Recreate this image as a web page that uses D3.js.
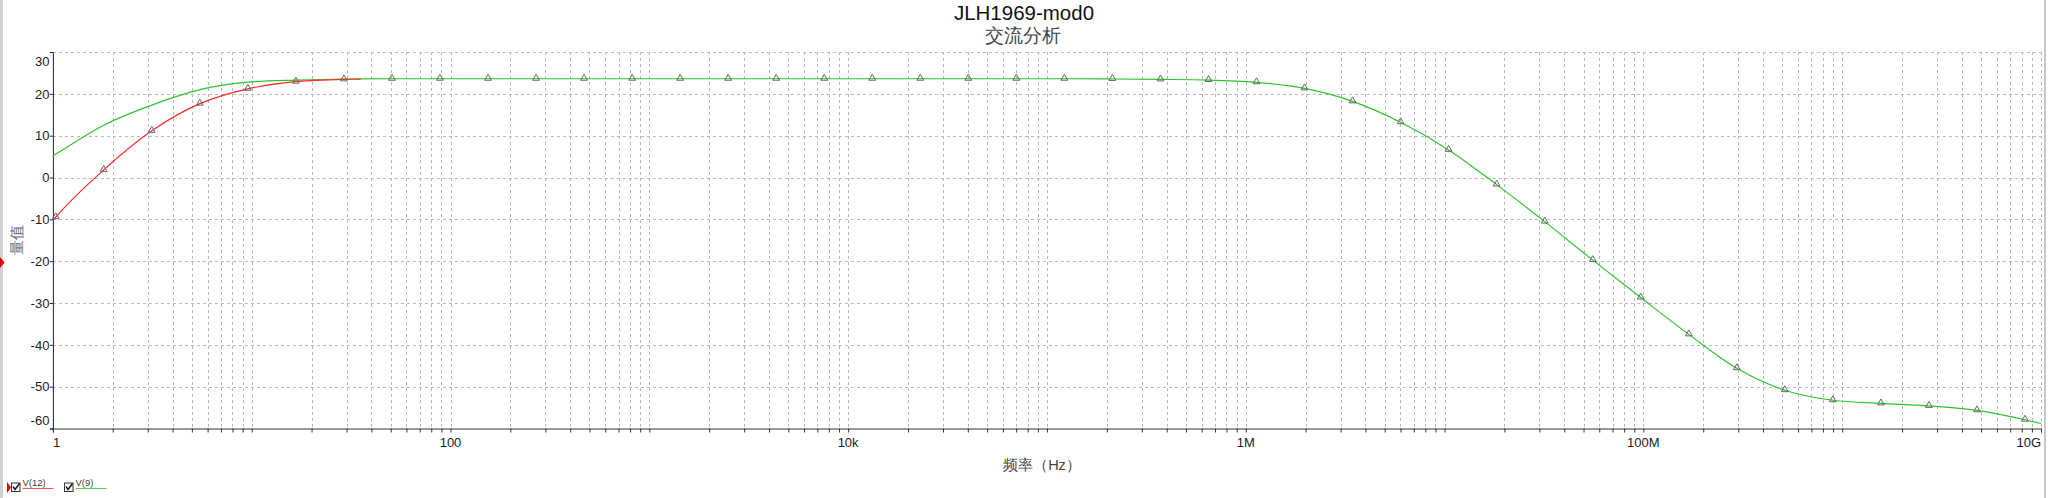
<!DOCTYPE html>
<html><head><meta charset="utf-8">
<script src="https://cdn.jsdelivr.net/npm/d3@7"></script>
<style>
html,body{margin:0;padding:0;background:#fff;}
svg{display:block;}
text{font-family:"Liberation Sans",Arial,sans-serif;}
</style></head>
<body>
<svg id="chart" width="2048" height="498"></svg>
<script>
// ---- data ----
const titleMain = "JLH1969-mod0";
const titleSub = "交流分析";
const xAxisTitle = "频率（Hz）";
const yAxisTitle = "量值";
const yTicks = [-60, -50, -40, -30, -20, -10, 0, 10, 20, 30];
const xLabelTicks = [1, 100, 1e4, 1e6, 1e8, 1e10];
const xLabelTexts = ["1", "100", "10k", "1M", "100M", "10G"];
// sweep points where the markers sit (Hz)
const freqs = [1.033, 1.801, 3.143, 5.482, 9.561, 16.68, 29.09, 50.74, 88.50, 154.4,
  269.2, 469.6, 819.1, 1429, 2492, 4346, 7581, 13222, 23063, 40228,
  70165, 1.224e5, 2.135e5, 3.723e5, 6.494e5, 1.133e6, 1.976e6, 3.446e6, 6.010e6, 1.048e7,
  1.828e7, 3.189e7, 5.562e7, 9.701e7, 1.692e8, 2.951e8, 5.148e8, 8.978e8, 1.566e9, 2.731e9,
  4.764e9, 8.309e9];
// V(12) values at freqs[0..6]
const v12 = [-9.5, 1.8, 11.15, 17.65, 21.2, 22.9, 23.45];
const v12Start = [1, -10.3];
const v12End = [35.3, 23.5];
// V(9) values at every freq
const v9 = [5.6, 12.5, 17.3, 21.0, 22.8, 23.3, 23.55,
  23.6, 23.6, 23.6, 23.6, 23.6, 23.6, 23.6, 23.6, 23.6, 23.6, 23.6, 23.6, 23.6, 23.6, 23.6,
  23.55, 23.45, 23.3, 22.76, 21.3, 18.2, 13.2, 6.6, -1.7, -10.55, -19.75, -28.7, -37.5,
  -45.6, -50.85, -53.25, -54.0, -54.6, -55.65, -57.9];
const v9Start = [1, 5.2];
const v9End = [1e10, -58.8];
const v9MarkerFrom = 7;
const seriesNames = ["V(12)", "V(9)"];
const seriesColors = ["#ff2a2a", "#2ec42e"];

// ---- drawing ----
const svg = d3.select("#chart");
const L = 52.9, R = 2041, T = 52, B = 428.5;
const x = d3.scaleLog().domain([1, 1e10]).range([L, R]);
const y = d3.scaleLinear().domain([-60, 30]).range([B, T]);

// window borders
svg.append("rect").attr("x", 0).attr("y", 0).attr("width", 3).attr("height", 498).attr("fill", "#d0d0d0");
svg.append("rect").attr("x", 2044).attr("y", 0).attr("width", 2).attr("height", 498).attr("fill", "#c8c8c8");

// grid
const minorVals = [];
for (let e = 0; e < 10; e++) for (let m = 1; m <= 9; m++) {
  const v = m * Math.pow(10, e);
  if (v > 1) minorVals.push(v);
}
minorVals.push(1e10);
const grid = svg.append("g").attr("stroke", "#b8b8b8").attr("stroke-dasharray", "3,3").attr("stroke-width", 1);
grid.selectAll("line.v").data(minorVals).join("line")
  .attr("x1", d => Math.round(x(d)) + 0.5).attr("x2", d => Math.round(x(d)) + 0.5)
  .attr("y1", T).attr("y2", B);
grid.selectAll("line.h").data(yTicks.filter(d => d > -60)).join("line")
  .attr("x1", L).attr("x2", R)
  .attr("y1", d => Math.round(y(d)) + 0.5).attr("y2", d => Math.round(y(d)) + 0.5);

// axes
const xAxis = d3.axisBottom(x).tickValues([1].concat(minorVals)).tickSize(4).tickFormat("");
const gx = svg.append("g").attr("transform", `translate(0,${B})`).call(xAxis);
gx.select(".domain").attr("stroke", "#333");
gx.selectAll(".tick line").attr("stroke", "#333");

const yAxis = d3.axisLeft(y).tickValues(yTicks).tickSize(3).tickFormat("");
const gy = svg.append("g").attr("transform", `translate(${L},0)`).call(yAxis);
gy.select(".domain").attr("stroke", "#222");
gy.selectAll(".tick line").attr("stroke", "#222");

// y labels
svg.append("g").selectAll("text").data(yTicks).join("text")
  .attr("x", L - 3.5)
  .attr("y", d => d === 30 ? y(d) + 13.5 : (d === -60 ? y(d) - 3.5 : y(d) + 4.7))
  .attr("text-anchor", "end").attr("font-size", 13).attr("fill", "#222")
  .text(d => d);

// x labels
svg.append("g").selectAll("text").data(xLabelTicks).join("text")
  .attr("x", d => x(d))
  .attr("y", 447)
  .attr("text-anchor", (d, i) => i === 0 ? "start" : (i === xLabelTicks.length - 1 ? "end" : "middle"))
  .attr("font-size", 13).attr("fill", "#1a1a2a")
  .text((d, i) => xLabelTexts[i]);

// titles
svg.append("text").attr("x", 1024).attr("y", 19.5).attr("text-anchor", "middle")
  .attr("font-size", 20.5).attr("fill", "#111").text(titleMain);
svg.append("text").attr("x", 1023).attr("y", 42).attr("text-anchor", "middle")
  .attr("font-family", "'Noto Sans CJK SC'").attr("font-size", 19).attr("fill", "#444").text(titleSub);
svg.append("text").attr("x", 1042).attr("y", 470).attr("text-anchor", "middle")
  .attr("font-family", "'Noto Sans CJK SC'").attr("font-size", 14.5).attr("fill", "#444").text(xAxisTitle);
svg.append("text").attr("transform", "translate(22,240) rotate(-90)").attr("text-anchor", "middle")
  .attr("font-family", "'Noto Sans CJK SC'").attr("font-size", 15).attr("fill", "#667").text(yAxisTitle);

// left red indicator
svg.append("path").attr("d", d3.line()([[0, 257], [4.5, 262.5], [0, 268]])).attr("fill", "#e00000");

// series
const line = d3.line().x(d => x(d[0])).y(d => y(d[1])).curve(d3.curveMonotoneX);
const pts9 = [v9Start].concat(freqs.map((f, i) => [f, v9[i]]), [v9End]);
const pts12 = [v12Start].concat(v12.map((v, i) => [freqs[i], v]), [v12End]);
svg.append("path").attr("d", line(pts9)).attr("fill", "none").attr("stroke", seriesColors[1]).attr("stroke-width", 1.2);
svg.append("path").attr("d", line(pts12)).attr("fill", "none").attr("stroke", seriesColors[0]).attr("stroke-width", 1.2);

// markers
const tri = d3.symbol().type(d3.symbolTriangle).size(20);
const markerPts = v12.map((v, i) => [freqs[i], v]).concat(
  v9.map((v, i) => [freqs[i], v]).filter((d, i) => i >= v9MarkerFrom));
svg.append("g").selectAll("path").data(markerPts).join("path")
  .attr("d", tri)
  .attr("transform", d => `translate(${x(d[0])},${y(d[1]) - 0.5})`)
  .attr("fill", "none").attr("stroke", "#666").attr("stroke-width", 1);

// legend
const lg = svg.append("g");
lg.append("path").attr("d", d3.line()([[7, 482], [11, 487.5], [7, 493]])).attr("fill", "#e00000");
const legendX = [11.5, 64.5];
seriesNames.forEach((n, i) => {
  const bx = legendX[i];
  lg.append("rect").attr("x", bx).attr("y", 483).attr("width", 8.5).attr("height", 8.5)
    .attr("fill", "#fff").attr("stroke", "#333").attr("stroke-width", 1);
  lg.append("path").attr("d", d3.line()([[bx + 1.5, 486.5], [bx + 3.5, 489.5], [bx + 8, 483.5]]))
    .attr("fill", "none").attr("stroke", "#111").attr("stroke-width", 1.4);
  lg.append("text").attr("x", bx + 11).attr("y", 485.5).attr("font-size", 9.5).attr("fill", "#444").text(n);
  lg.append("line").attr("x1", bx + 11).attr("x2", bx + 42).attr("y1", 488.5).attr("y2", 488.5)
    .attr("stroke", seriesColors[i]).attr("stroke-opacity", 0.8).attr("stroke-width", 1);
});
</script>
</body></html>
